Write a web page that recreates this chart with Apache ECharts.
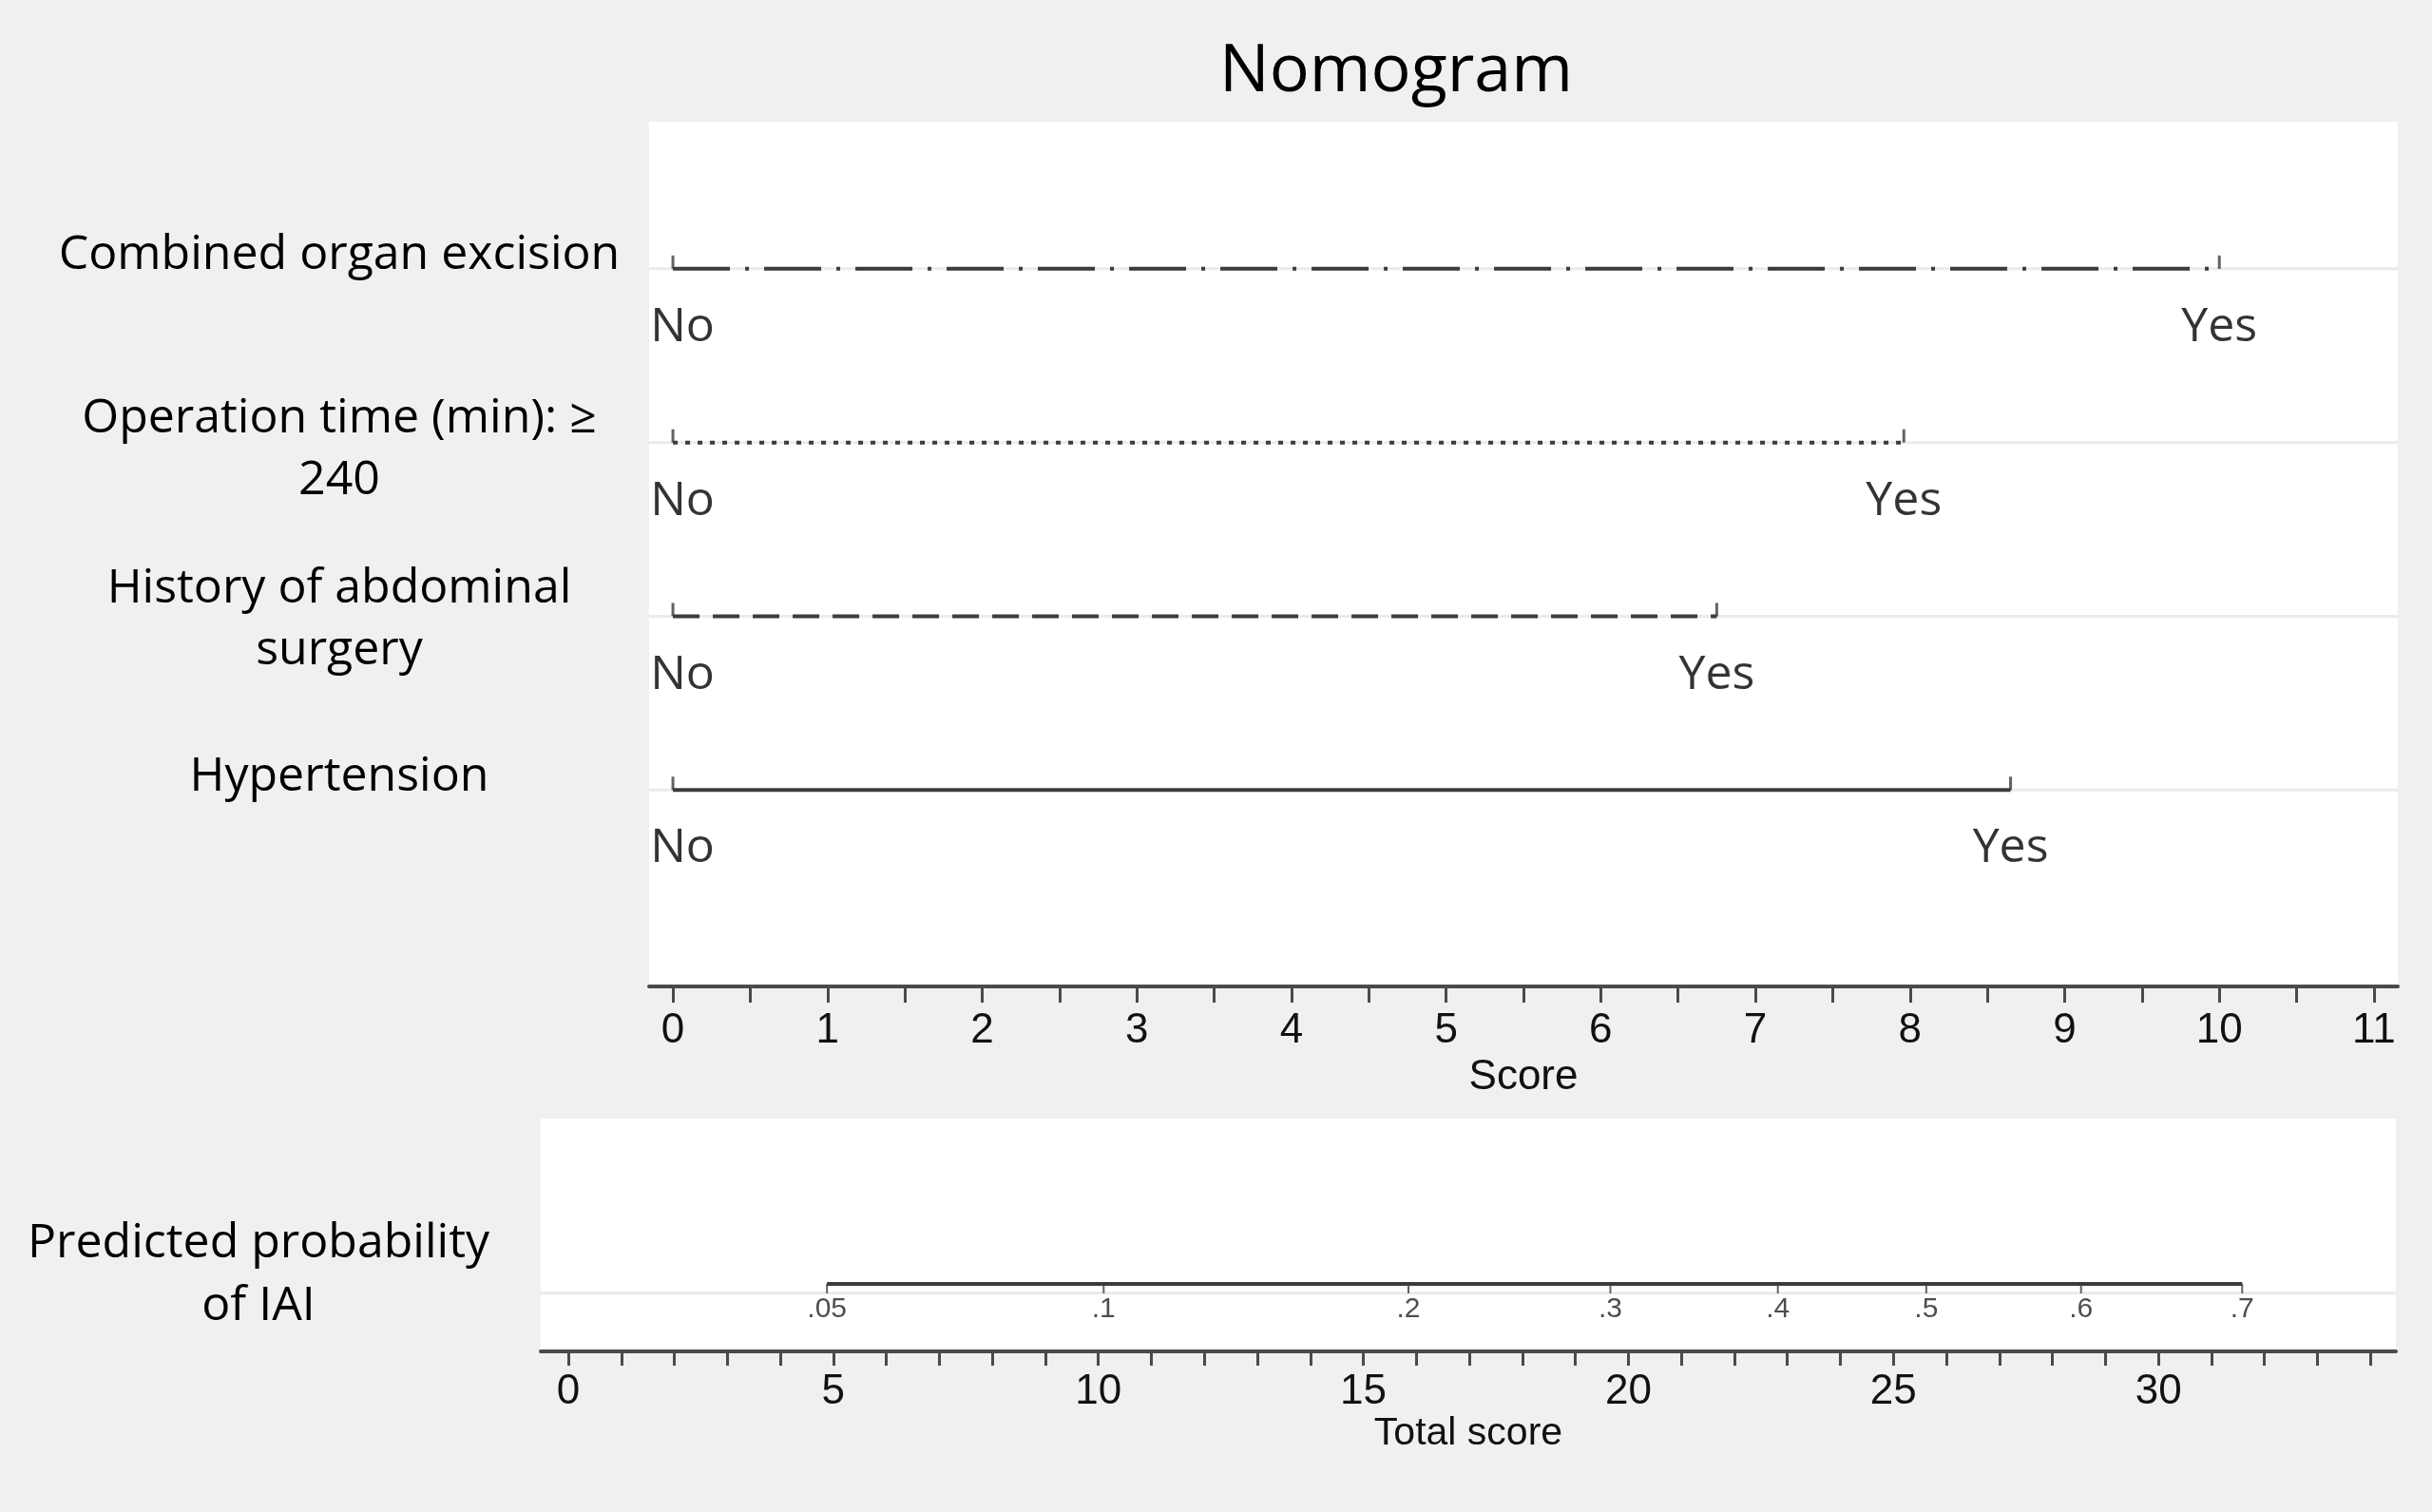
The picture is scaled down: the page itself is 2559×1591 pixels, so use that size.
<!DOCTYPE html>
<html>
<head>
<meta charset="utf-8">
<script src="https://cdn.jsdelivr.net/npm/echarts@6/dist/echarts.min.js"></script>
<style>
  html, body { margin: 0; padding: 0; background: #f0f0f0; }
  #main { width: 2559px; height: 1591px; }
</style>
</head>
<body>
<div id="main"></div>
<script>
// predictors, top to bottom
var predictors = ['Combined organ excision', 'Operation time (min): \u2265\n240', 'History of abdominal\nsurgery', 'Hypertension'];
var rowIndex = [1, 2, 3, 4];
var noPoints = [0, 0, 0, 0];
var yesPoints = [10, 7.96, 6.75, 8.65];
var levelNames = ['No', 'Yes'];

// score axis
var scoreTicks = [0, 1, 2, 3, 4, 5, 6, 7, 8, 9, 10, 11];
// total score axis
var totalTicks = [0, 5, 10, 15, 20, 25, 30];
var totalMinor = [0, 1, 2, 3, 4, 5, 6, 7, 8, 9, 10, 11, 12, 13, 14, 15, 16, 17, 18, 19, 20,
  21, 22, 23, 24, 25, 26, 27, 28, 29, 30, 31, 32, 33, 34];

// predicted probability of IAI vs total score
var probLabels = ['.05', '.1', '.2', '.3', '.4', '.5', '.6', '.7'];
var probAtTotal = [4.88, 10.1, 15.85, 19.66, 22.82, 25.62, 28.54, 31.58];

var lineTypes = [[60, 16, 4, 16], [5, 8], [28, 14], 'solid'];
var lineColor = '#3c3c3c';

var chart = echarts.init(document.getElementById('main'), null, { renderer: 'canvas' });

var scoreMinor = [];
scoreTicks.forEach(function (t, i) {
  scoreMinor.push(t);
  if (i < scoreTicks.length - 1) scoreMinor.push(t + 0.5);
});

var topX = [-0.154, 11.154];
var botX = [-0.52, 34.48];
var probRow = 0.71;

var series = [];

// light row guide lines
rowIndex.forEach(function (r) {
  series.push({
    type: 'line', xAxisIndex: 0, yAxisIndex: 0, symbol: 'none', silent: true, z: 1,
    lineStyle: { color: '#ebebeb', width: 3 },
    data: [[topX[0], r], [topX[1], r]]
  });
});

// predictor lines
rowIndex.forEach(function (r, i) {
  series.push({
    type: 'line', xAxisIndex: 0, yAxisIndex: 0, symbol: 'none', z: 3,
    lineStyle: { color: lineColor, width: 4, type: lineTypes[i] },
    data: [[noPoints[i], r], [yesPoints[i], r]]
  });
  // end ticks
  series.push({
    type: 'scatter', xAxisIndex: 0, yAxisIndex: 0, z: 4,
    symbol: 'rect', symbolSize: [3, 14], symbolOffset: [0, -7],
    itemStyle: { color: lineColor },
    data: [[noPoints[i], r], [yesPoints[i], r]]
  });
  // No / Yes labels
  series.push({
    type: 'scatter', xAxisIndex: 0, yAxisIndex: 0, z: 5,
    symbolSize: 0.1, itemStyle: { color: 'rgba(0,0,0,0)' },
    label: {
      show: true, position: 'inside', offset: [0, 62],
      color: '#000', fontFamily: 'Open Sans', fontSize: 50,
      formatter: function (p) { return p.value[2]; }
    },
    data: [
      { value: [noPoints[i], r, levelNames[0]], label: { offset: [10, 62] } },
      [yesPoints[i], r, levelNames[1]]
    ]
  });
});

// probability panel
series.push({
  type: 'line', xAxisIndex: 1, yAxisIndex: 1, symbol: 'none', silent: true, z: 1,
  lineStyle: { color: '#ebebeb', width: 3 },
  data: [[botX[0], probRow + 0.04], [botX[1], probRow + 0.04]]
});
series.push({
  type: 'line', xAxisIndex: 1, yAxisIndex: 1, symbol: 'none', z: 3,
  lineStyle: { color: lineColor, width: 4 },
  data: [[probAtTotal[0], probRow], [probAtTotal[probAtTotal.length - 1], probRow]]
});
series.push({
  type: 'scatter', xAxisIndex: 1, yAxisIndex: 1, z: 4,
  symbol: 'rect', symbolSize: [2, 10], symbolOffset: [0, 5],
  itemStyle: { color: lineColor },
  label: {
    show: true, position: 'inside', offset: [0, 22],
    color: '#222', fontFamily: 'Liberation Sans', fontSize: 30,
    formatter: function (p) { return p.value[2]; }
  },
  data: probAtTotal.map(function (v, i) { return [v, probRow, probLabels[i]]; })
});

var axisFont = { color: '#111', fontFamily: 'Liberation Sans', fontSize: 44 };

var option = {
  backgroundColor: '#f0f0f0',
  animation: false,
  title: {
    text: 'Nomogram', left: 1464, top: 36, textAlign: 'center',
    textStyle: { fontFamily: 'Open Sans', fontSize: 70, fontWeight: 'normal', color: '#000' }
  },
  grid: [
    { left: 683, right: 36, top: 128, bottom: 553, show: true, backgroundColor: '#fff', borderWidth: 0 },
    { left: 569, right: 38, top: 1177, bottom: 169, show: true, backgroundColor: '#fff', borderWidth: 0 }
  ],
  xAxis: [
    {
      type: 'value', gridIndex: 0, min: topX[0], max: topX[1],
      name: 'Score', nameLocation: 'middle', nameGap: 70,
      nameTextStyle: axisFont,
      axisLine: { show: true, onZero: false, lineStyle: { color: '#4a4a4a', width: 4 } },
      axisTick: { show: true, length: 17, customValues: scoreMinor, lineStyle: { color: '#4a4a4a', width: 3 } },
      axisLabel: Object.assign({ margin: 25, customValues: scoreTicks }, axisFont),
      splitLine: { show: false }
    },
    {
      type: 'value', gridIndex: 1, min: botX[0], max: botX[1],
      name: 'Total score', nameLocation: 'middle', nameGap: 66,
      nameTextStyle: Object.assign({}, axisFont, { fontSize: 41 }),
      axisLine: { show: true, onZero: false, lineStyle: { color: '#4a4a4a', width: 4 } },
      axisTick: { show: true, length: 15, customValues: totalMinor, lineStyle: { color: '#4a4a4a', width: 3 } },
      axisLabel: Object.assign({ margin: 21, customValues: totalTicks }, axisFont),
      splitLine: { show: false }
    }
  ],
  yAxis: [
    { type: 'value', gridIndex: 0, inverse: true, min: 0.153, max: 5.131, show: false },
    { type: 'value', gridIndex: 1, inverse: true, min: 0, max: 1, show: false }
  ],
  graphic: [],
  series: series
};

// predictor names on the left
var nameY = [269, 473, 652, 818];
predictors.forEach(function (name, i) {
  option.graphic.push({
    type: 'text', x: 357, y: nameY[i],
    style: {
      text: name, fill: '#000', font: '50px "Open Sans"',
      textAlign: 'center', textVerticalAlign: 'middle', lineHeight: 65
    }
  });
});
option.graphic.push({
  type: 'text', x: 272, y: 1342,
  style: {
    text: 'Predicted probability\nof IAI', fill: '#000', font: '50px "Open Sans"',
    textAlign: 'center', textVerticalAlign: 'middle', lineHeight: 66
  }
});

chart.setOption(option);
</script>
</body>
</html>
